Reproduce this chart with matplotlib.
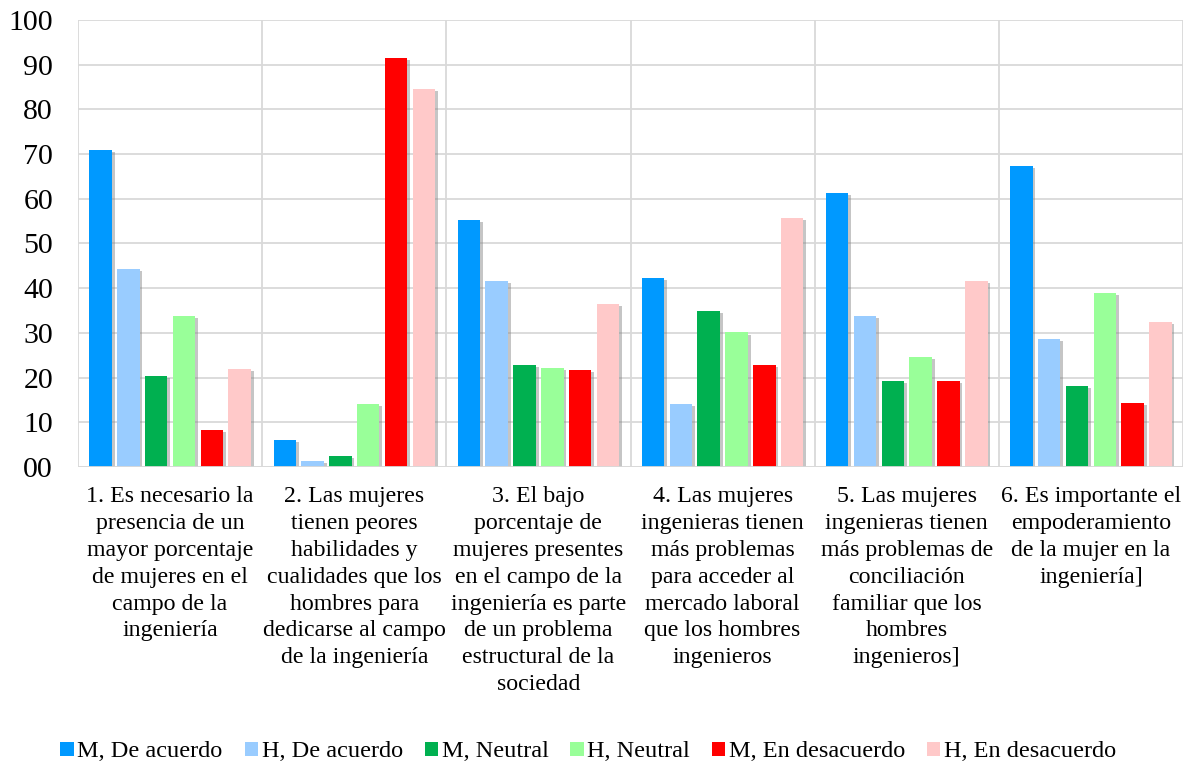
import matplotlib
matplotlib.use("Agg")
import matplotlib.pyplot as plt
import matplotlib.patheffects as pe
from matplotlib.patches import Patch
import numpy as np

plt.rcParams['font.family'] = ['Liberation Serif', 'DejaVu Serif']

categories = [
    "1. Es necesario la\npresencia de un\nmayor porcentaje\nde mujeres en el\ncampo de la\ningeniería",
    "2. Las mujeres\ntienen peores\nhabilidades y\ncualidades que los\nhombres para\ndedicarse al campo\nde la ingeniería",
    "3. El bajo\nporcentaje de\nmujeres presentes\nen el campo de la\ningeniería es parte\nde un problema\nestructural de la\nsociedad",
    "4. Las mujeres\ningenieras tienen\nmás problemas\npara acceder al\nmercado laboral\nque los hombres\ningenieros",
    "5. Las mujeres\ningenieras tienen\nmás problemas de\nconciliación\nfamiliar que los\nhombres\ningenieros]",
    "6. Es importante el\nempoderamiento\nde la mujer en la\ningeniería]",
]

series_names = ["M, De acuerdo", "H, De acuerdo", "M, Neutral", "H, Neutral",
                "M, En desacuerdo", "H, En desacuerdo"]
m_acuerdo = [71.0, 6.0, 55.3, 42.2, 61.4, 67.4]
h_acuerdo = [44.3, 1.3, 41.6, 14.2, 33.8, 28.6]
m_neutral = [20.4, 2.4, 22.8, 35.0, 19.3, 18.1]
h_neutral = [33.8, 14.2, 22.1, 30.1, 24.7, 39.0]
m_desacuerdo = [8.3, 91.5, 21.7, 22.8, 19.3, 14.3]
h_desacuerdo = [22.0, 84.5, 36.4, 55.7, 41.6, 32.5]
series_values = [m_acuerdo, h_acuerdo, m_neutral, h_neutral, m_desacuerdo, h_desacuerdo]

y_ticks = [0, 10, 20, 30, 40, 50, 60, 70, 80, 90, 100]
y_ticklabels = ["00", "10", "20", "30", "40", "50", "60", "70", "80", "90", "100"]

colors = ["#0099FF", "#99CCFF", "#00B050", "#99FF99", "#FF0000", "#FFC9C9"]

fig = plt.figure(figsize=(11.91, 7.65), dpi=100)
ax = fig.add_axes([0.0655, 0.3895, 0.9278, 0.5844])

x = np.arange(len(categories))
pitch = 0.151
width = 0.122
shadow = [pe.SimplePatchShadow(offset=(2, -1.5), shadow_rgbFace='#808080', alpha=0.45), pe.Normal()]
for i, (name, vals, c) in enumerate(zip(series_names, series_values, colors)):
    offs = (i - 2.5) * pitch
    b = ax.bar(x + offs, vals, width=width, color=c, zorder=3)
    for p in b:
        p.set_path_effects(shadow)

ax.set_xlim(-0.5, len(categories) - 0.5)
ax.set_ylim(0, 100)
ax.set_yticks(y_ticks)
ax.set_yticklabels(y_ticklabels, fontsize=21.5)
ax.set_xticks(x)
ax.set_xticklabels(categories, fontsize=17.2, linespacing=1.36, va='top')
ax.tick_params(axis='both', length=0)
ax.tick_params(axis='y', pad=18)
ax.tick_params(axis='x', pad=14)

ax.grid(axis='y', color='#D9D9D9', linewidth=1.3, zorder=0)
for b in np.arange(-0.5, len(categories) + 0.5, 1.0):
    ax.axvline(b, color='#D9D9D9', linewidth=1.3, zorder=0)
for s in ax.spines.values():
    s.set_visible(False)
ax.axhline(0, color='#D9D9D9', linewidth=1.3, zorder=4)

handles = [Patch(facecolor=c, edgecolor='none') for c in colors]
leg = fig.legend(handles, series_names, loc='center', bbox_to_anchor=(0.494, 0.017),
                 ncol=6, frameon=False, fontsize=17.5, handlelength=0.55, handleheight=0.5,
                 handletextpad=0.15, columnspacing=0.9, borderpad=0)

fig.savefig("out.png", dpi=100)
